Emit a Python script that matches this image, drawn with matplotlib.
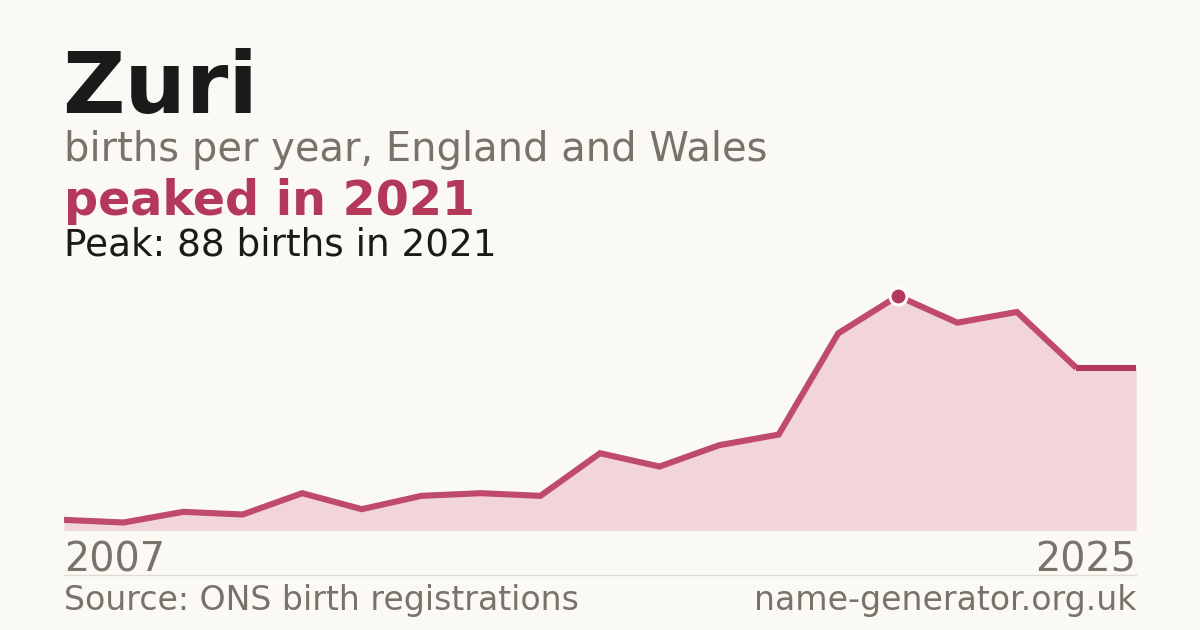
import matplotlib
matplotlib.use("Agg")
import matplotlib.pyplot as plt

years = list(range(2007, 2026))
births = [4, 3, 7, 6, 14, 8, 13, 14, 13, 29, 24, 32, 36, 74, 88, 78, 82, 61, 61]
peak_year = 2021
peak_value = 88

BG = "#faf9f4"
ACCENT = "#b3385a"
FILL = "#f1d5da"
GREY = "#78726a"
DARK = "#1a1a1a"

W, H = 1200, 630
fig = plt.figure(figsize=(W / 100, H / 100), dpi=100, facecolor=BG)

def fx(px):
    return px / W

def fy(py):
    return 1 - py / H

left, right = 64, 1136
base, top = 530.5, 296
ax = fig.add_axes([fx(left), fy(base), (right - left) / W, (base - top) / H])
ax.set_facecolor("none")
ax.set_xlim(years[0], years[-1])
ax.set_ylim(0, peak_value)
ax.axis("off")

ax.fill_between(years, births, 0, color=FILL, lw=0, zorder=1)
ax.plot(years[:-1], births[:-1], color="#bf4a69", lw=4.4, solid_joinstyle="miter",
        solid_capstyle="butt", clip_on=False, zorder=2)
ax.plot(years[-2:], births[-2:], color=ACCENT, lw=4.4, solid_capstyle="butt",
        clip_on=False, zorder=2)
ax.plot([peak_year], [peak_value], marker="o", ms=12.2, mfc=ACCENT, mec="white",
        mew=2.2, clip_on=False, zorder=3)

fig.text(fx(62), fy(113), "Zuri", fontsize=62, fontweight="bold", color=DARK,
         va="baseline", ha="left")
fig.text(fx(64), fy(161), "births per year, England and Wales", fontsize=28.8,
         color=GREY, va="baseline", ha="left")
fig.text(fx(64), fy(215), "peaked in 2021", fontsize=34.3, fontweight="bold",
         color=ACCENT, va="baseline", ha="left")
fig.text(fx(64), fy(255), "Peak: 88 births in 2021", fontsize=26.9, color=DARK,
         va="baseline", ha="left")

fig.text(fx(64), fy(571), str(years[0]), fontsize=28.5, color=GREY,
         va="baseline", ha="left")
fig.text(fx(1136), fy(571), str(years[-1]), fontsize=28.5, color=GREY,
         va="baseline", ha="right")

fig.add_artist(plt.Line2D([fx(64), fx(1136)], [fy(574.5), fy(574.5)],
                          color="#dedbd3", lw=1))

fig.text(fx(64), fy(610), "Source: ONS birth registrations", fontsize=23.9,
         color=GREY, va="baseline", ha="left")
fig.text(fx(1136), fy(610), "name-generator.org.uk", fontsize=23.9,
         color=GREY, va="baseline", ha="right")

fig.savefig("out.png", dpi=100, facecolor=BG)
